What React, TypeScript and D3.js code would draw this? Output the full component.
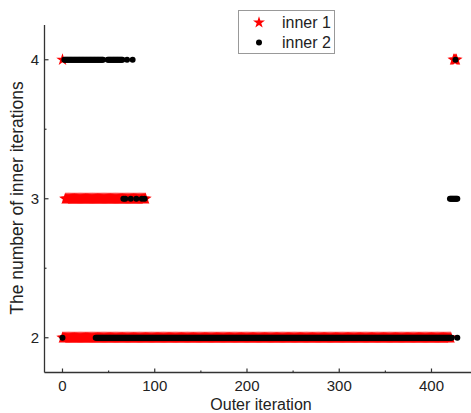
import React from "react";
import * as d3 from "d3";

// Data: runs [start, end] of outer iterations (inclusive) and single points
const inner1Level2Runs: [number, number][] = [[0, 421]];
const inner1Level3Runs: [number, number][] = [[3, 90]];
const inner1Level4Runs: [number, number][] = [[424, 427]];
const inner1Level4Points: number[] = [0];

const inner2Level2Runs: [number, number][] = [[36, 422]];
const inner2Level2Points: number[] = [0, 428];
const inner2Level3Runs: [number, number][] = [[420, 428]];
const inner2Level3Points: number[] = [66, 68, 74, 80, 86, 89];
const inner2Level4Runs: [number, number][] = [[2, 44], [49, 65]];
const inner2Level4Points: number[] = [70, 76, 426];

const xMajorTicks = [0, 100, 200, 300, 400];
const xMinorTicks = [50, 150, 250, 350];
const yMajorTicks = [2, 3, 4];
const yMinorTicks = [2.5, 3.5];

function expand(runs: [number, number][], points: number[], level: number) {
  const out: { x: number; y: number }[] = [];
  runs.forEach(([a, b]) => {
    for (let i = a; i <= b; i++) out.push({ x: i, y: level });
  });
  points.forEach((p) => out.push({ x: p, y: level }));
  return out;
}

const series1 = [
  ...expand(inner1Level2Runs, [], 2),
  ...expand(inner1Level3Runs, [], 3),
  ...expand(inner1Level4Runs, inner1Level4Points, 4),
];
const series2 = [
  ...expand(inner2Level2Runs, inner2Level2Points, 2),
  ...expand(inner2Level3Runs, inner2Level3Points, 3),
  ...expand(inner2Level4Runs, inner2Level4Points, 4),
];

const W = 471;
const H = 413;
const left = 44.5;
const bottom = 372.5;
const top = 25;

export default function App() {
  const x = d3.scaleLinear().domain([-19.5, 443]).range([left, left + 462.5 * 0.9225]);
  const y = d3.scaleLinear().domain([1.75, 4.25]).range([bottom, top]);
  const star = d3.symbol().type(d3.symbolStar).size(48)() as string;
  const legendStar = d3.symbol().type(d3.symbolStar).size(44)() as string;
  const axisColor = "#333";
  const font = "Arial, 'Liberation Sans', sans-serif";

  return (
    <svg
      width={W}
      height={H}
      style={{ position: "absolute", left: 0, top: 0, background: "#fff" }}
      fontFamily={font}
    >
      {/* series 1 stars */}
      <g fill="#ff0000">
        {series1.map((d, i) => (
          <path key={i} d={star} transform={`translate(${x(d.x)},${y(d.y)})`} />
        ))}
      </g>
      {/* series 2 dots */}
      <g fill="#000">
        {series2.map((d, i) => (
          <circle key={i} cx={x(d.x)} cy={y(d.y)} r={3} />
        ))}
      </g>

      {/* axes */}
      <line x1={left} x2={left} y1={top} y2={bottom} stroke={axisColor} strokeWidth={1.3} />
      <line x1={left} x2={W} y1={bottom} y2={bottom} stroke={axisColor} strokeWidth={1.3} />
      {xMajorTicks.map((t) => (
        <g key={t}>
          <line x1={x(t)} x2={x(t)} y1={bottom} y2={bottom - 4} stroke={axisColor} strokeWidth={1.2} />
          <text x={x(t)} y={390.5} textAnchor="middle" fontSize={15} fill="#222">
            {t}
          </text>
        </g>
      ))}
      {xMinorTicks.map((t) => (
        <line key={t} x1={x(t)} x2={x(t)} y1={bottom} y2={bottom - 2} stroke={axisColor} strokeWidth={1.2} />
      ))}
      {yMajorTicks.map((t) => (
        <g key={t}>
          <line x1={left} x2={left + 4} y1={y(t)} y2={y(t)} stroke={axisColor} strokeWidth={1.2} />
          <text x={39} y={y(t) + 5.5} textAnchor="end" fontSize={15} fill="#222">
            {t}
          </text>
        </g>
      ))}
      {yMinorTicks.map((t) => (
        <line key={t} x1={left} x2={left + 2} y1={y(t)} y2={y(t)} stroke={axisColor} strokeWidth={1.2} />
      ))}

      {/* axis titles */}
      <text x={261} y={410} textAnchor="middle" fontSize={16} fill="#222">
        Outer iteration
      </text>
      <text
        transform={`translate(23,198) rotate(-90)`}
        textAnchor="middle"
        fontSize={17.5}
        fill="#222"
      >
        The number of inner iterations
      </text>

      {/* legend */}
      <rect x={238.5} y={10.5} width={96} height={43} fill="#fff" stroke="#999" strokeWidth={1} />
      <path d={legendStar} transform="translate(259,22.5)" fill="#ff0000" />
      <text x={282} y={28} fontSize={16} fill="#222">
        inner 1
      </text>
      <circle cx={259} cy={42.5} r={3} fill="#000" />
      <text x={282} y={48} fontSize={16} fill="#222">
        inner 2
      </text>
    </svg>
  );
}
